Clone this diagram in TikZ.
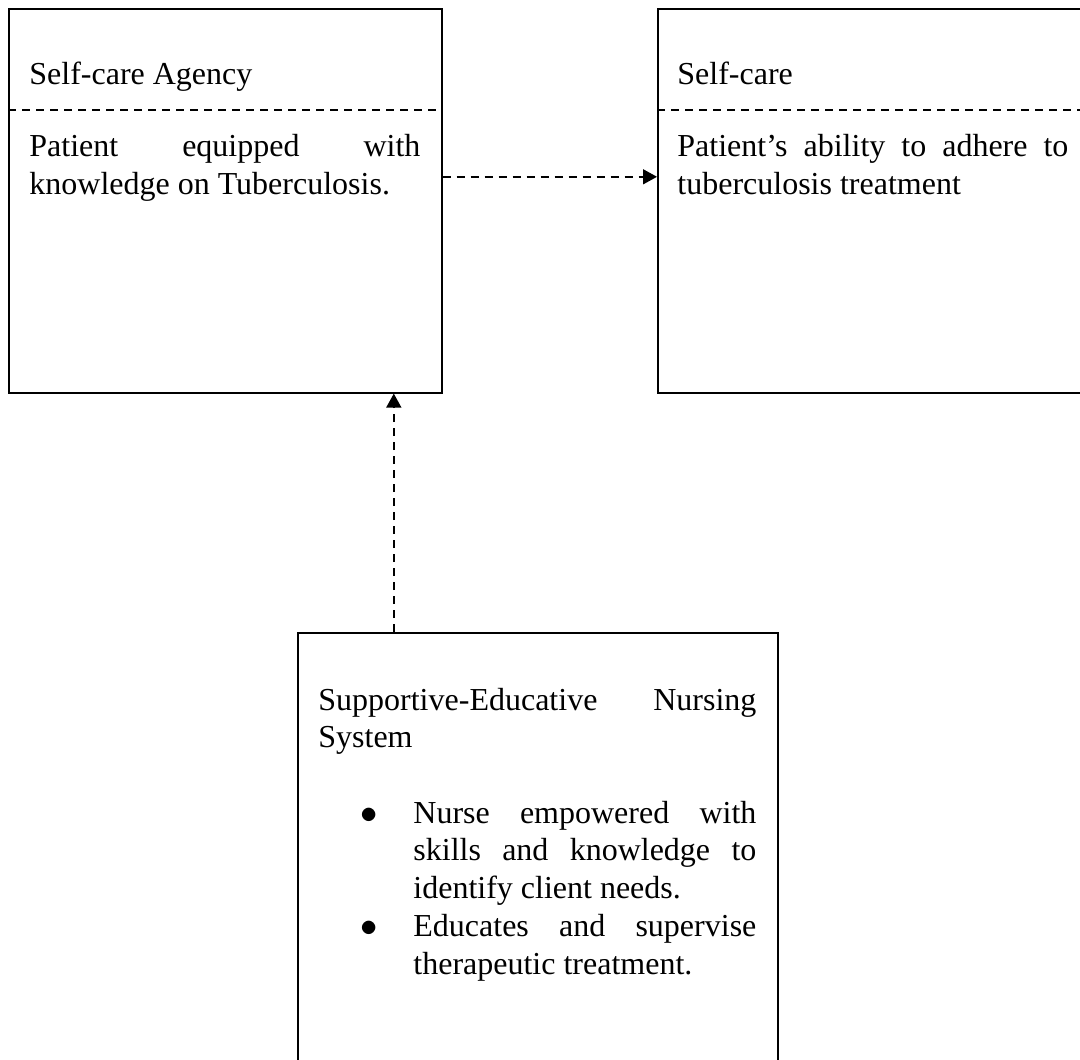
\documentclass[tikz,border=0pt]{standalone}
\usepackage{fontspec}
\setmainfont{Liberation Serif}
\usepackage{enumitem}
\usetikzlibrary{arrows.meta}
\hyphenpenalty=10000
\exhyphenpenalty=10000
\tolerance=10000
\tikzset{
  frame/.style={draw,line width=.8pt,inner sep=0,anchor=north west},
  boxtext/.style={inner sep=0,anchor=base west,text width=195.5pt,align=justify,
    font=\fontsize{16pt}{18.9pt}\selectfont},
  divider/.style={line width=.75pt,dash pattern=on 4pt off 3pt},
  link/.style={line width=.75pt,dash pattern=on 4pt off 3pt,-{Triangle[length=7pt,width=7.5pt]}}
}
\begin{document}
\begin{tikzpicture}[x=.5pt,y=-.5pt]
\useasboundingbox (0,0) rectangle (1080,1059);
\begin{scope}
	\clip (0,0) rectangle (1080,1059);
	% the three boxes
	\node[frame,minimum width=216.5pt,minimum height=192pt] (agency) at (8,8) {};
	\node[frame,minimum width=216.5pt,minimum height=192pt] (selfcare) at (657,8) {};
	\node[frame,minimum width=240pt,minimum height=220pt] (nursing) at (297,632) {};
	\draw[divider] ([yshift=-51pt]agency.north west) -- ([yshift=-51pt]agency.north east);
	\draw[divider] ([yshift=-51pt]selfcare.north west) -- ([yshift=-51pt]selfcare.north east);
		\node[boxtext] (agencytitle) at (29,85) {Self-care Agency};
		\node[boxtext] (agencybody) at (29,157) {Patient equipped with knowledge on Tuberculosis.};
		\node[boxtext] (selfcaretitle) at (677,85) {Self-care};
		\node[boxtext] (selfcarebody) at (677,157) {Patient's ability to adhere to tuberculosis treatment};
		\node[boxtext,text width=219pt] (nursingtext) at (318,710) {Supportive-Educative Nursing System\par
			\vspace{18.75pt}
			\begin{itemize}[nosep,leftmargin=47.5pt,labelsep=18pt,label=$\bullet$]
				\item Nurse empowered with skills and knowledge to identify client needs.
				\item Educates and supervise therapeutic treatment.
			\end{itemize}};
	% links
	\coordinate (feed) at ([xshift=-72pt]nursing.north);
	\draw[link] ([yshift=12pt]agency.east) -- ([yshift=12pt]selfcare.west);
	\draw[link] (feed) -- (feed |- agency.south);
\end{scope}
\end{tikzpicture}
\end{document}
